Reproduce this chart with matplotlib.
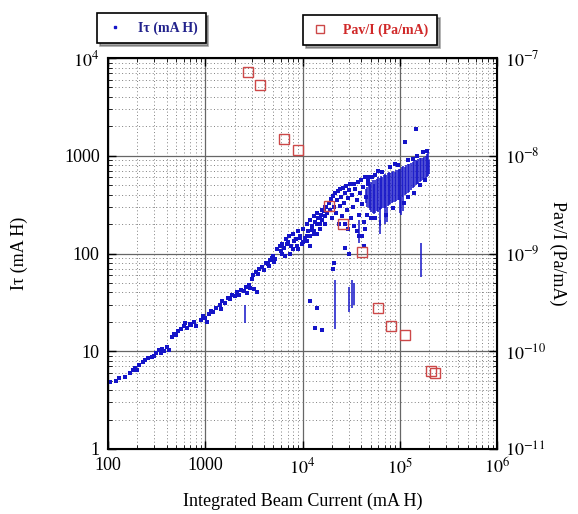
import matplotlib
matplotlib.use("Agg")
import matplotlib.pyplot as plt
from matplotlib.lines import Line2D
from matplotlib.ticker import LogLocator, NullFormatter

plt.rcParams['font.family'] = ['Liberation Serif', 'DejaVu Serif']
plt.rcParams['mathtext.fontset'] = 'stix'

# ---- I tau (mA H): scattered points ----
dots_x = [105, 120, 130, 150, 170, 180, 190, 200, 210, 230, 240, 260, 280, 300, 310,
          330, 350, 360, 380, 400, 420, 450, 480, 500, 520, 560, 600, 620, 650, 700,
          720, 760, 800, 900, 950, 1000, 1050, 1100, 1150, 1200, 1300, 1400, 1450, 1500,
          1600, 1700, 1800, 1900, 2000, 2100, 2200, 2300, 2500, 2600, 2700, 2800, 3000,
          3100, 3300, 3500, 3600, 3800, 4000, 4200, 4400, 4600, 4800, 5000, 5200, 5500,
          5800, 6000, 6200, 6500, 6800, 7000, 7300, 7600, 8000, 8500, 9000, 9500, 10000,
          11000, 11500, 12000, 13000, 14000, 15000, 16000, 17000, 9000, 10000, 11000,
          12000, 13000, 14000, 15000, 17000, 7500, 8200, 9800, 10500, 12500, 6600, 7900,
          12000, 12500, 13000, 13500, 14000, 14500, 15000, 15500, 16000, 16500, 17000,
          17500, 18000, 18500, 19000, 19500, 20000, 20500, 21000, 21500, 22000, 22500,
          23000, 23500, 24000, 24500, 25000, 25500, 26000, 26500, 27000, 27500, 28000,
          28500, 29000, 29500, 30000, 31000, 31500, 32000, 33000, 33500, 34000, 35000,
          36000, 37000, 38000, 39000, 40000, 41000, 42000, 43000, 44000, 45000, 46000,
          47000, 48000, 50000, 41000, 43000, 44000, 30000, 27000, 12000, 14000, 13500,
          15800, 20500, 21000, 112000, 148000, 55000, 38000, 36000, 2800, 3200, 3400,
          2900, 4500, 5100, 6100, 6900, 8800, 9300, 11200,
          60000, 80000, 95000, 120000, 150000, 175000, 55000, 85000, 120000, 160000,
          66000, 90000, 135000, 190000, 47000, 52000, 72000, 110000, 140000, 182000]
dots_y = [4.8, 5.0, 5.3, 5.5, 6.0, 6.4, 6.8, 6.5, 7.2, 7.8, 8.1, 8.5, 8.8, 9.0, 9.6,
          10.2, 9.5, 10.5, 10.0, 11.0, 10.3, 14, 15, 14.5, 16, 17, 18, 19.5, 17.5, 19,
          18.5, 20, 18, 21, 23, 22, 20, 24, 26, 25, 28, 30, 27, 33,
          31, 35, 34, 38, 37, 40, 38, 42, 41, 45, 39, 48, 55,
          60, 65, 62, 70, 72, 68, 80, 78, 85, 90, 95, 88, 110,
          120, 105, 125, 115, 140, 130, 150, 120, 160, 140, 170, 150, 180,
          200, 170, 220, 240, 260, 230, 280, 300, 110, 130, 150,
          120, 160, 200, 180, 200, 100, 135, 125, 145, 175, 95, 110,
          150, 190, 170, 210, 160, 230, 200, 250, 220, 270, 240,
          300, 260, 330, 280, 360, 230, 390, 300, 420, 260, 350,
          440, 200, 310, 460, 380, 240, 470, 330, 200, 420, 490,
          280, 370, 180, 450, 510, 230, 400, 300, 520, 190, 460,
          350, 540, 250, 420, 570, 320, 480, 210, 600, 380, 250,
          520, 600, 230, 150, 120, 180, 100, 115, 33, 28, 17.5,
          16.5, 70, 80, 1380, 1870, 640, 150, 170, 46, 43, 40,
          44, 75, 82, 100, 125, 120, 145, 135,
          700, 760, 800, 900, 1000, 1100, 230, 290, 380, 500,
          680, 820, 930, 1120, 560, 610, 250, 330, 420, 560]

# ---- I tau: dense streaks (x, low, high) ----
streak_x = [45000, 46500, 48000, 49500, 51000, 52500, 54000, 56000, 58000, 60000,
            62000, 64000, 66000, 68000, 70000, 72500, 75000, 77500, 80000, 83000,
            86000, 89000, 92000, 95000, 98000, 101000, 105000, 109000, 113000, 117000,
            121000, 125000, 130000, 135000, 140000, 145000, 150000, 155000, 160000,
            166000, 172000, 178000, 184000, 190000, 196000, 200000,
            63000, 70000, 74000, 100000, 104000, 107000, 166000, 21500, 2570, 38000,
            30000, 32000, 34000, 63000]
streak_lo = [330, 300, 290, 280, 265, 260, 255, 260, 270, 265,
             280, 285, 290, 290, 295, 300, 310, 315, 320, 330,
             335, 340, 345, 350, 355, 360, 380, 390, 400, 410,
             420, 430, 450, 470, 480, 500, 510, 520, 540,
             550, 560, 570, 590, 600, 620, 650,
             190, 200, 210, 260, 250, 270, 57, 17, 19.5, 128,
             25, 28, 30, 160]
streak_hi = [460, 480, 500, 520, 540, 560, 520, 560, 580, 600,
             590, 620, 610, 640, 650, 640, 660, 680, 670, 690,
             700, 690, 720, 710, 730, 740, 760, 780, 770, 800,
             820, 830, 850, 860, 880, 900, 890, 920, 940,
             960, 950, 980, 1000, 1050, 1070, 900,
             300, 300, 300, 360, 380, 390, 128, 53, 29.5, 220,
             45, 53, 50, 220]

# ---- Pav/I (Pa/mA) ----
pav_x = [2750, 3650, 6440, 8980, 18700, 26000, 40800, 59600, 81100, 112700, 210000, 228000]
pav_y = [7.2e-8, 5.3e-8, 1.48e-8, 1.14e-8, 3.05e-9, 2.0e-9, 1.03e-9, 2.76e-10,
         1.81e-10, 1.46e-10, 6.3e-11, 6.0e-11]

blue = '#1414c8'
red = '#cc4848'

fig = plt.figure(figsize=(5.78, 5.14), dpi=100)
ax = fig.add_axes([0.187, 0.1265, 0.673, 0.7605])
ax.set_xscale('log')
ax.set_yscale('log')
ax.set_xlim(100, 1e6)
ax.set_ylim(1, 1e4)

ax.vlines(streak_x, streak_lo, streak_hi, color=blue, linewidth=1.1, zorder=3)
ax.scatter(dots_x, dots_y, s=5, marker='s', color=blue, linewidths=0, zorder=3)

ax.grid(True, which='major', color='0.4', linewidth=0.9, linestyle='-')
ax.grid(True, which='minor', color='0.5', linewidth=0.7, linestyle=(0, (1, 2.5)))
ax.set_axisbelow(True)

ax.set_xticks([100, 1000, 1e4, 1e5, 1e6],
              ['100', '1000', r'$10^{4}$', r'$10^{5}$', r'$10^{6}$'])
ax.set_yticks([1, 10, 100, 1000, 1e4],
              ['1', '10', '100', '1000', r'$10^{4}$'])
ax.xaxis.set_minor_locator(LogLocator(base=10, subs=range(2, 10)))
ax.yaxis.set_minor_locator(LogLocator(base=10, subs=range(2, 10)))
ax.xaxis.set_minor_formatter(NullFormatter())
ax.yaxis.set_minor_formatter(NullFormatter())
ax.tick_params(which='both', direction='in', top=True, labelsize=13, pad=6)
ax.tick_params(which='major', length=6, width=1)
ax.tick_params(which='minor', length=3)
for sp in ax.spines.values():
    sp.set_linewidth(1.5)

ax.set_xlabel('Integrated Beam Current (mA H)', fontsize=13, labelpad=11)
ax.set_ylabel('I\u03c4 (mA H)', fontsize=13, labelpad=26)

ax2 = ax.twinx()
ax2.set_yscale('log')
ax2.set_ylim(1e-11, 1e-7)
ax2.plot(pav_x, pav_y, linestyle='none', marker='s', markersize=7,
         markerfacecolor='none', markeredgecolor=red, markeredgewidth=1.0, zorder=4)
ax2.set_yticks([1e-11, 1e-10, 1e-9, 1e-8, 1e-7],
               [r'$10^{-11}$', r'$10^{-10}$', r'$10^{-9}$', r'$10^{-8}$', r'$10^{-7}$'])
ax2.yaxis.set_minor_locator(LogLocator(base=10, subs=range(2, 10)))
ax2.yaxis.set_minor_formatter(NullFormatter())
ax2.tick_params(which='both', direction='in', labelsize=13, pad=6)
ax2.tick_params(which='major', length=6, width=1)
ax2.tick_params(which='minor', length=3)
ax2.set_ylabel('Pav/I (Pa/mA)', fontsize=13, rotation=270, labelpad=14)

h1 = [Line2D([], [], linestyle='none', marker='s', markersize=2, color=blue)]
leg1 = fig.legend(h1, ['I\u03c4 (mA H)'], loc='center', bbox_to_anchor=(0.262, 0.945),
                  fancybox=False, shadow=True, edgecolor='black', framealpha=1,
                  prop={'size': 10, 'weight': 'bold'}, borderpad=0.6, handletextpad=1.0,
                  handlelength=1.3)
leg1.get_frame().set_linewidth(1.2)
for t in leg1.get_texts():
    t.set_color('#22228c')

h2 = [Line2D([], [], linestyle='none', marker='s', markersize=6,
             markerfacecolor='none', markeredgecolor=red)]
leg2 = fig.legend(h2, ['Pav/I (Pa/mA)'], loc='center', bbox_to_anchor=(0.640, 0.941),
                  fancybox=False, shadow=True, edgecolor='black', framealpha=1,
                  prop={'size': 10, 'weight': 'bold'}, borderpad=0.6, handletextpad=1.0,
                  handlelength=1.3)
leg2.get_frame().set_linewidth(1.2)
for t in leg2.get_texts():
    t.set_color('#d02828')

fig.savefig('out.png', dpi=100)
